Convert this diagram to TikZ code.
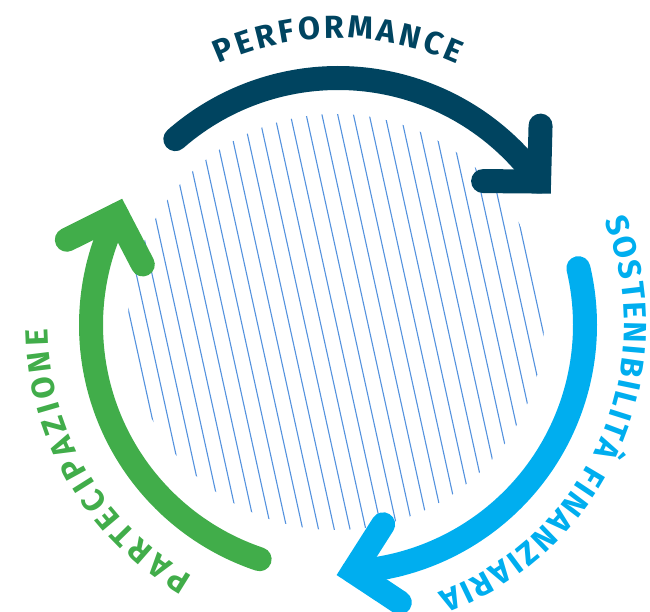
\documentclass[tikz,border=0pt]{standalone}
\usepackage{fontspec}
\setmainfont{Fira Sans}
\usepackage{tikz}
\usetikzlibrary{decorations.text}
\definecolor{perfblue}{RGB}{0,68,96}
\definecolor{sostcyan}{RGB}{0,174,239}
\definecolor{partgreen}{RGB}{65,173,74}
\definecolor{hatchblue}{RGB}{84,146,222}

\begin{document}
\begin{tikzpicture}[x=1pt,y=1pt]
	\useasboundingbox (0,0) rectangle (650,612);
	\pgfmathsetmacro{\R}{247}
	% hatched disc
	\begin{scope}
		\clip (336,290) circle (208);
		\begin{scope}[shift={(336,290)},rotate=12.4]
			\foreach \i in {-16,...,16}{
				\draw[hatchblue, line width=1.1] (\i*15.4,240) -- (\i*15.4,-240);
			}
		\end{scope}
	\end{scope}
	\begin{scope}[shift={(338,287)}]
		% the three arcs, each with a chevron head
		\foreach \col/\a/\b in {perfblue/131.2/35.5,sostcyan/13.3/-86.5,partgreen/251.5/153.5}{
			\draw[\col, line width=24, line cap=round] (\a:\R) arc[start angle=\a, end angle=\b, radius=\R];
			\draw[\col, line width=24, line cap=round, line join=miter] (\b:\R) ++(\b+53:56) -- (\b:\R) -- ++(\b+144:56);
		}
		% labels round the outside
		\path[decorate, decoration={text along path, text align=fit to path,
			text={|\bfseries\fontsize{32}{32}\selectfont\color{perfblue}|PERFORMANCE}}]
			(114.5:287) arc[start angle=114.5, end angle=65.5, radius=287];
		\path[decorate, decoration={text along path, text align=fit to path,
			text={|\bfseries\fontsize{32}{32}\selectfont\color{sostcyan}|SOSTENIBILITÀ FINANZIARIA}}]
			(21.5:286) arc[start angle=21.5, end angle=-69.5, radius=286];
		\path[decorate, decoration={text along path, text align=fit to path,
			text={|\bfseries\fontsize{32}{32}\selectfont\color{partgreen}|PARTECIPAZIONE}}]
			(240:290) arc[start angle=240, end angle=180.8, radius=290];
	\end{scope}
\end{tikzpicture}
\end{document}
